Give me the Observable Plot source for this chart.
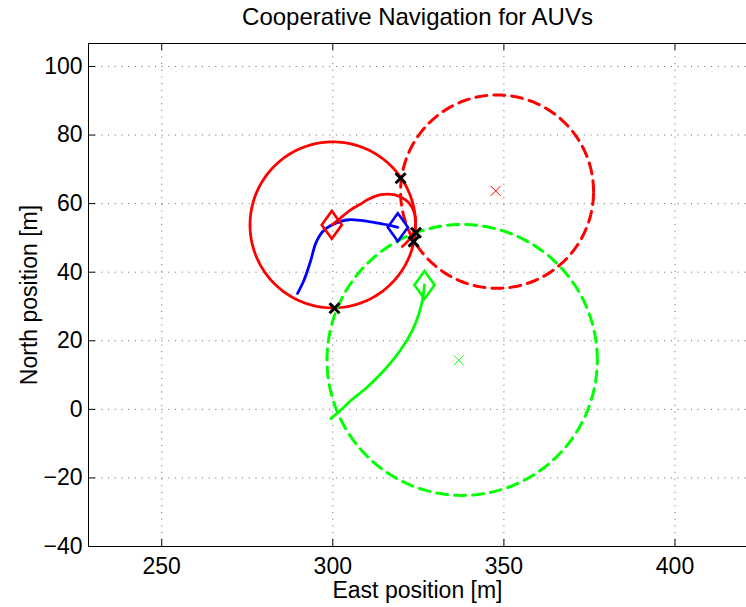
<!DOCTYPE html>
<html>
<head>
<meta charset="utf-8">
<script src="https://cdn.jsdelivr.net/npm/d3@7"></script>
<script src="https://cdn.jsdelivr.net/npm/@observablehq/plot@0.6"></script>
<style>
  html, body { margin: 0; padding: 0; background: #fff; overflow: hidden; }
  #chart svg { display: block; }
</style>
</head>
<body>
<div id="chart"></div>
<script>
// ---------- data ----------
const titleText = "Cooperative Navigation for AUVs";
const xLabel = "East position [m]";
const yLabel = "North position [m]";
const xTicks = [250, 300, 350, 400];
const yTicks = [-40, -20, 0, 20, 40, 60, 80, 100];
const xDomain = [228.6, 420.9];
const yDomain = [-40, 106.7];

// trajectories
const blueX = [289.7, 291.6, 293.6, 295.0, 297.0, 299.4, 302.3, 304.7, 308.2, 312.0, 316.0, 319.0];
const blueY = [33.8, 37.7, 43.6, 48.4, 51.8, 53.6, 54.8, 55.3, 55.1, 54.5, 53.8, 53.1];
const redX = [299.8, 302.0, 305.2, 308.0, 310.1, 314.0, 317.9, 321.3, 323.3, 324.2, 323.7, 321.8, 320.3];
const redY = [53.8, 55.6, 58.2, 59.8, 61.1, 62.6, 62.6, 61.1, 58.7, 55.3, 51.8, 48.9, 47.5];
const greenX = [299.4, 302.0, 305.3, 310.1, 315.0, 319.8, 323.3, 325.2, 326.2, 326.8];
const greenY = [-2.7, -0.5, 2.6, 6.5, 11.4, 17.3, 23.1, 28.0, 31.9, 36.3];

// vehicle positions (diamonds)
const vehicleNames = ["red", "blue", "green"];
const vehicleX = [299.7, 319.0, 326.8];
const vehicleY = [53.8, 53.1, 36.3];

// beacons (thin x)
const beaconNames = ["red", "green"];
const beaconX = [347.6, 336.8];
const beaconY = [63.7, 14.3];

// range circles
const circleNames = ["red-solid", "red-dashed", "green-dashed"];
const circleCX = [300.0, 348.0, 337.8];
const circleCY = [53.8, 63.5, 14.4];
const circleR = [24.2, 28.2, 39.5];

// fixes (black x)
const fixX = [319.8, 300.5, 324.3, 323.6];
const fixY = [67.4, 29.5, 51.5, 48.9];

// ---------- build tables ----------
const toPts = (xs, ys) => xs.map((x, i) => ({x, y: ys[i]}));
const circlePts = (k) => d3.range(0, 361, 2).map(a => ({
  x: circleCX[k] + circleR[k] * Math.cos(a * Math.PI / 180),
  y: circleCY[k] + circleR[k] * Math.sin(a * Math.PI / 180)
}));
const vehicles = vehicleNames.map((n, i) => ({n, x: vehicleX[i], y: vehicleY[i]}));
const beacons = beaconNames.map((n, i) => ({n, x: beaconX[i], y: beaconY[i]}));
const fixes = toPts(fixX, fixY);

const colorOf = {red: "#ff0000", blue: "#0000ff", green: "#00ff00"};

const diamondSym = { draw(ctx, size) { const r = Math.sqrt(size / Math.PI); const w = r * 0.72;
  ctx.moveTo(0, -r); ctx.lineTo(w, 0); ctx.lineTo(0, r); ctx.lineTo(-w, 0); ctx.closePath(); } };
const crossSym = { draw(ctx, size) { const r = Math.sqrt(size / Math.PI);
  ctx.moveTo(-r, -r); ctx.lineTo(r, r); ctx.moveTo(-r, r); ctx.lineTo(r, -r); } };

const W = 746, H = 607, mT = 43, mL = 88, mB = 61, mR = 0;
const kx = (W - mL - mR) / (xDomain[1] - xDomain[0]);
const ky = (H - mT - mB) / (yDomain[1] - yDomain[0]);
const tl = 7;
const font = "'Liberation Sans', Arial, Helvetica, sans-serif";
const grid = {stroke: "#666", strokeWidth: 1, strokeDasharray: "1,5.7"};

const chart = Plot.plot({
  width: W, height: H,
  marginTop: mT, marginLeft: mL, marginBottom: mB, marginRight: mR,
  x: {domain: xDomain, axis: null},
  y: {domain: yDomain, axis: null},
  style: {fontFamily: font, background: "#fff", color: "#000"},
  marks: [
    // grid
    Plot.ruleX(xTicks, {x: d => d, ...grid}),
    Plot.ruleY(yTicks, {y: d => d, ...grid}),
    // frame (left, top, bottom)
    Plot.ruleX([xDomain[0]], {x: d => d, stroke: "#000", strokeWidth: 1}),
    Plot.ruleY([yDomain[0], yDomain[1]], {y: d => d, stroke: "#000", strokeWidth: 1}),
    // ticks
    Plot.ruleX(xTicks, {x: d => d, y1: yDomain[0], y2: yDomain[0] + tl / ky, stroke: "#000"}),
    Plot.ruleX(xTicks, {x: d => d, y1: yDomain[1] - tl / ky, y2: yDomain[1], stroke: "#000"}),
    Plot.ruleY(yTicks, {y: d => d, x1: xDomain[0], x2: xDomain[0] + tl / kx, stroke: "#000"}),
    // circles
    Plot.line(circlePts(0), {x: "x", y: "y", stroke: colorOf.red, strokeWidth: 2.8}),
    Plot.line(circlePts(1), {x: "x", y: "y", stroke: colorOf.red, strokeWidth: 3, strokeDasharray: "11,7"}),
    Plot.line(circlePts(2), {x: "x", y: "y", stroke: colorOf.green, strokeWidth: 3, strokeDasharray: "11,7"}),
    // trajectories
    Plot.line(toPts(blueX, blueY), {x: "x", y: "y", stroke: colorOf.blue, strokeWidth: 2.8, curve: "catmull-rom"}),
    Plot.line(toPts(redX, redY), {x: "x", y: "y", stroke: colorOf.red, strokeWidth: 2.8, curve: "catmull-rom"}),
    Plot.line(toPts(greenX, greenY), {x: "x", y: "y", stroke: colorOf.green, strokeWidth: 2.8, curve: "catmull-rom"}),
    // vehicle diamonds
    Plot.dot(vehicles, {x: "x", y: "y", r: 14, symbol: diamondSym, fill: "none", stroke: d => colorOf[d.n], strokeWidth: 2.6}),
    // beacons
    Plot.dot(beacons, {x: "x", y: "y", r: 5, symbol: crossSym, stroke: d => colorOf[d.n], strokeWidth: 1}),
    // fixes
    Plot.dot(fixes, {x: "x", y: "y", r: 5, symbol: crossSym, stroke: "#000", strokeWidth: 3}),
    // tick labels
    Plot.text(xTicks, {x: d => d, y: yDomain[0], text: d => String(d), dy: 27, lineAnchor: "bottom", textAnchor: "middle", fontSize: 23, fill: "#000"}),
    Plot.text(yTicks, {x: xDomain[0], y: d => d, text: d => (d < 0 ? "\u2212" + Math.abs(d) : String(d)), dx: -6, lineAnchor: "middle", textAnchor: "end", fontSize: 23, fill: "#000"}),
    // title & labels
    Plot.text([titleText], {text: d => d, frameAnchor: "top", dy: -19, lineAnchor: "bottom", textAnchor: "middle", fontSize: 24, fill: "#000"}),
    Plot.text([xLabel], {text: d => d, frameAnchor: "bottom", dy: 51, lineAnchor: "bottom", textAnchor: "middle", fontSize: 23, fill: "#000"}),
    Plot.text([yLabel], {text: d => d, frameAnchor: "left", dx: -51.5, rotate: -90, lineAnchor: "bottom", textAnchor: "middle", fontSize: 23, fill: "#000"})
  ]
});
document.getElementById("chart").appendChild(chart);
</script>
</body>
</html>
